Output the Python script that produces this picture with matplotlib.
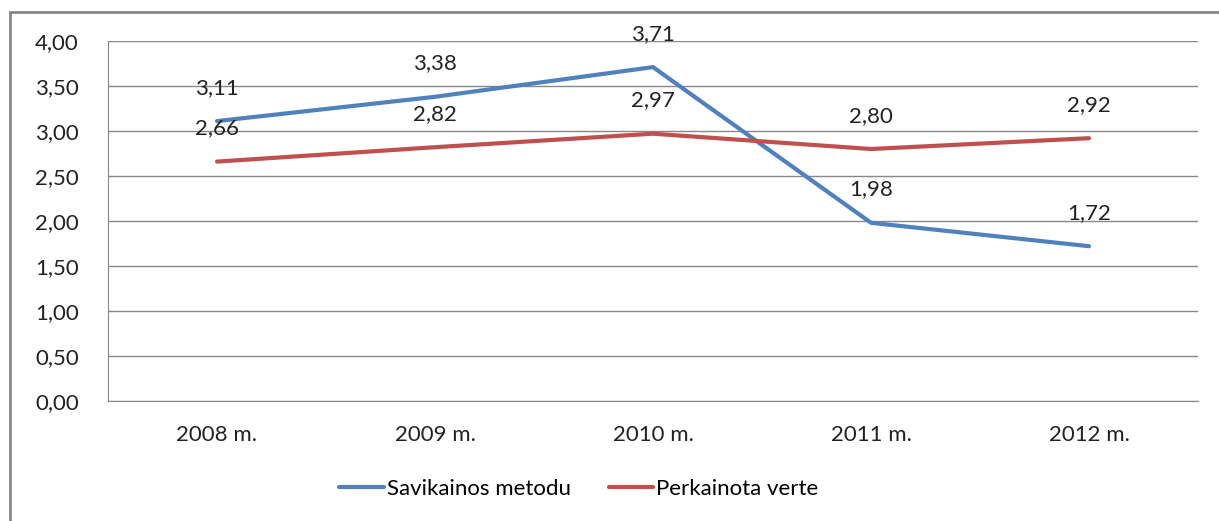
import matplotlib.pyplot as plt
from matplotlib.patches import Rectangle

years = ["2008 m.", "2009 m.", "2010 m.", "2011 m.", "2012 m."]
savikainos = [3.11, 3.38, 3.71, 1.98, 1.72]
perkainota = [2.66, 2.82, 2.97, 2.80, 2.92]
yticks = [0.0, 0.5, 1.0, 1.5, 2.0, 2.5, 3.0, 3.5, 4.0]

plt.rcParams['font.family'] = ['Lato', 'DejaVu Sans']

fig = plt.figure(figsize=(12.19, 5.21), dpi=100)
ax = fig.add_axes([108 / 1219, 1 - 401 / 521, 1090 / 1219, 360 / 521])

x = range(len(years))
ax.plot(x, savikainos, color='#4F81BD', lw=3, label='Savikainos metodu', solid_capstyle='round')
ax.plot(x, perkainota, color='#C0504D', lw=3, label='Perkainota verte', solid_capstyle='round')

for i, v in enumerate(savikainos):
    ax.annotate(f"{v:.2f}".replace('.', ','), (i, v), xytext=(0, 24), textcoords='offset points',
                ha='center', va='center', fontsize=16, color='#222222')
for i, v in enumerate(perkainota):
    ax.annotate(f"{v:.2f}".replace('.', ','), (i, v), xytext=(0, 24), textcoords='offset points',
                ha='center', va='center', fontsize=16, color='#222222')

ax.set_xlim(-0.5, 4.5)
ax.set_ylim(0, 4)
ax.set_yticks(yticks)
ax.set_yticklabels([f"{t:.2f}".replace('.', ',') for t in yticks])
ax.set_xticks(list(x))
ax.set_xticklabels(years)
ax.tick_params(length=0, labelsize=16, colors='#222222')
ax.tick_params(axis='x', pad=17)
ax.tick_params(axis='y', pad=21)
ax.grid(axis='y', color='#878787', lw=1)
ax.set_axisbelow(True)
for s in ['top', 'right']:
    ax.spines[s].set_visible(False)
for s in ['left', 'bottom']:
    ax.spines[s].set_color('#878787')

ax.legend(loc='center', bbox_to_anchor=(0.432, -0.245), ncol=2, frameon=False,
          fontsize=16, handlelength=2.0, columnspacing=1.7, handletextpad=0.15)

fig.patches.append(Rectangle((10 / 1219, -0.1), 1.2, 1 - 12 / 521 + 0.1, transform=fig.transFigure,
                             fill=False, edgecolor='#878787', lw=2))

fig.savefig('out.png', dpi=100)
